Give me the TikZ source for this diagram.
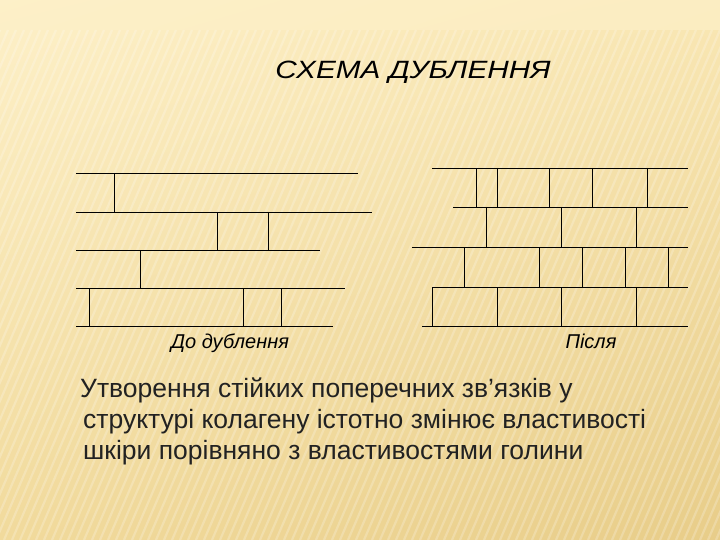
\documentclass[tikz,border=0pt]{standalone}
\usepackage{fontspec}
\setmainfont{Liberation Sans}
\usepackage{xcolor}
\usepackage{tikz}
\usetikzlibrary{calc,shadings}

\definecolor{paperlight}{HTML}{FDF0C8}
\definecolor{papermid}{HTML}{F9E7B4}
\definecolor{paperlow}{HTML}{F1DA9C}
\definecolor{paperdark}{HTML}{E8CD89}
\definecolor{inkgray}{HTML}{222222}

\tikzset{
	fibre/.style={black,line width=0.9pt},
	titletext/.style={font=\fontsize{25}{30}\selectfont\itshape,anchor=base,xscale=1.19},
	captext/.style={font=\fontsize{20}{24}\selectfont\itshape,anchor=base},
	bodytext/.style={font=\fontsize{26.5}{30}\selectfont,text=inkgray,anchor=base west,inner sep=0pt}
}

\begin{document}
\begin{tikzpicture}[x=1pt,y=-1pt]
	\useasboundingbox (0,0) rectangle (720,540);
	% background
	\shade[upper left=paperlight,upper right=papermid,
		lower left=paperlow,lower right=paperdark] (0,0) rectangle (720,540);
	\fill[paperlight,opacity=.7] (0,0) rectangle (720,30);
	\begin{scope}
		\clip (0,30) rectangle (720,540);
		\foreach \s in {-300,-292,...,720}
			\draw[white,opacity=.22,line width=2.2pt] (\s,540)--(\s+220,30);
	\end{scope}
	
	% before tanning
	\draw[fibre] (76,173)--(358,173);
	\draw[fibre] (76,212)--(372,212);
	\draw[fibre] (76,250)--(320,250);
	\draw[fibre] (76,288)--(345,288);
	\draw[fibre] (76,326)--(333,326);
	\foreach \x in {114}
		\draw[fibre] (\x,173)--(\x,212);
	\foreach \x in {217,268}
		\draw[fibre] (\x,212)--(\x,250);
	\foreach \x in {140}
		\draw[fibre] (\x,250)--(\x,288);
	\foreach \x in {89,243,281}
		\draw[fibre] (\x,288)--(\x,326);
	
	% after tanning
	\draw[fibre] (432,168)--(688,168);
	\draw[fibre] (453,207)--(688,207);
	\draw[fibre] (412,247)--(688,247);
	\draw[fibre] (432,287)--(688,287);
	\draw[fibre] (422,326)--(688,326);
	\foreach \x in {476,497,549,592,647}
		\draw[fibre] (\x,168)--(\x,207);
	\foreach \x in {486,561,636}
		\draw[fibre] (\x,207)--(\x,247);
	\foreach \x in {464,539,582,625,668}
		\draw[fibre] (\x,247)--(\x,287);
	\foreach \x in {432,497,561,636}
		\draw[fibre] (\x,287)--(\x,326);
	
	% texts
	\node[titletext] (title) at (413,79) {СХЕМА ДУБЛЕННЯ};
	\node[captext] (before) at (230,348) {До дублення};
	\node[captext] (after) at (591,348) {Після};
	\node[bodytext] (line1) at (80,397) {Утворення стійких поперечних зв’язків у};
	\node[bodytext] (line2) at (83,428) {структурі колагену істотно змінює властивості};
	\node[bodytext] (line3) at (83,459) {шкіри порівняно з властивостями голини};
\end{tikzpicture}
\end{document}
